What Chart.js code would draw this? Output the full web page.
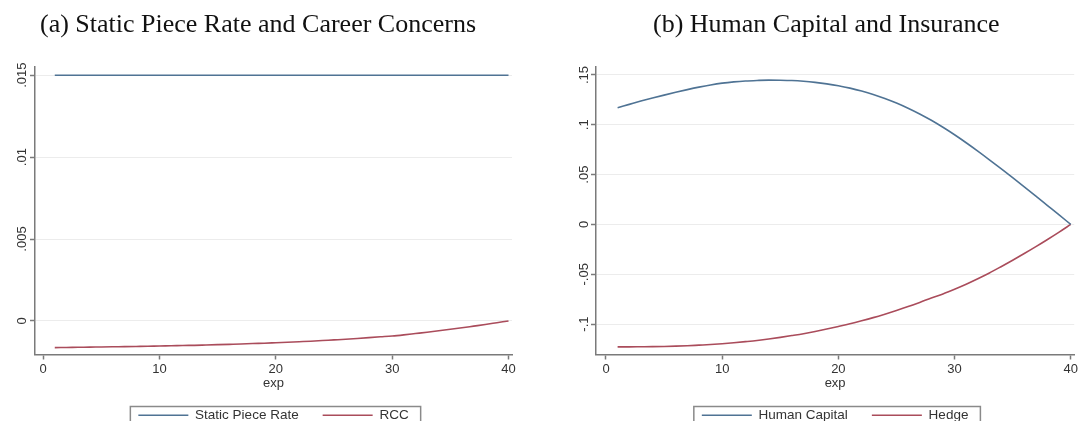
<!DOCTYPE html>
<html>
<head>
<meta charset="utf-8">
<script src="https://cdn.jsdelivr.net/npm/chart.js@4.4.1/dist/chart.umd.min.js"></script>
<style>
  html, body { margin: 0; padding: 0; background: #fff; width: 1080px; height: 421px; overflow: hidden; }
  .panel { position: absolute; top: 0; width: 540px; height: 421px; overflow: hidden; }
  .panel canvas { position: absolute; left: 0; top: 0; }
  .title { position: absolute; top: 9px; font-family: "Liberation Serif", "Times New Roman", serif;
           font-size: 26px; line-height: 30px; color: #111; white-space: nowrap; }
</style>
</head>
<body>
<div class="panel" style="left:0">
  <canvas id="chartA" width="540" height="432"></canvas>
  <div class="title" style="left:40px">(a) Static Piece Rate and Career Concerns</div>
</div>
<div class="panel" style="left:540px">
  <canvas id="chartB" width="540" height="432"></canvas>
  <div class="title" style="left:113px">(b) Human Capital and Insurance</div>
</div>
<script>
// Years of experience
const exp = [1, 2, 3, 4, 5, 6, 7, 8, 9, 10, 11, 12, 13, 14, 15, 16, 17, 18, 19, 20,
             21, 22, 23, 24, 25, 26, 27, 28, 29, 30, 31, 32, 33, 34, 35, 36, 37, 38, 39, 40];

// Panel (a): static piece rate and the career-concerns component
const staticPieceRate = [0.0150, 0.0150, 0.0150, 0.0150, 0.0150, 0.0150, 0.0150, 0.0150, 0.0150, 0.0150,
                         0.0150, 0.0150, 0.0150, 0.0150, 0.0150, 0.0150, 0.0150, 0.0150, 0.0150, 0.0150,
                         0.0150, 0.0150, 0.0150, 0.0150, 0.0150, 0.0150, 0.0150, 0.0150, 0.0150, 0.0150,
                         0.0150, 0.0150, 0.0150, 0.0150, 0.0150, 0.0150, 0.0150, 0.0150, 0.0150, 0.0150];
const rcc = [-0.00163, -0.00162, -0.00161, -0.00160, -0.00159, -0.00158, -0.00157, -0.00156, -0.00155, -0.00153,
             -0.00152, -0.00150, -0.00149, -0.00147, -0.00145, -0.00143, -0.00141, -0.00138, -0.00136, -0.00133,
             -0.00130, -0.00127, -0.00124, -0.00120, -0.00116, -0.00112, -0.00107, -0.00102, -0.00097, -0.00092,
             -0.00085, -0.00077, -0.00069, -0.00060, -0.00051, -0.00042, -0.00032, -0.00022, -0.00011, 0.00000];

// Panel (b): human capital and hedge components
const humanCapital = [0.1172, 0.1205, 0.1238, 0.1269, 0.1298, 0.1326, 0.1353, 0.1378, 0.1400, 0.1418,
                      0.1431, 0.1440, 0.1445, 0.1448, 0.1447, 0.1444, 0.1437, 0.1426, 0.1411, 0.1392,
                      0.1368, 0.1339, 0.1305, 0.1265, 0.1219, 0.1167, 0.1109, 0.1045, 0.0975, 0.0900,
                      0.0820, 0.0736, 0.0649, 0.0560, 0.0469, 0.0377, 0.0284, 0.0190, 0.0096, 0.0000];
const hedge = [-0.1228, -0.1228, -0.1227, -0.1226, -0.1224, -0.1221, -0.1217, -0.1211, -0.1205, -0.1197,
               -0.1187, -0.1176, -0.1164, -0.1149, -0.1133, -0.1115, -0.1096, -0.1074, -0.1050, -0.1024,
               -0.0997, -0.0967, -0.0935, -0.0900, -0.0863, -0.0824, -0.0782, -0.0738, -0.0697, -0.0650,
               -0.0600, -0.0545, -0.0487, -0.0424, -0.0359, -0.0292, -0.0223, -0.0151, -0.0077, 0.0000];

// Axis ticks and their printed labels
const xTicks = [0, 10, 20, 30, 40];
const yTicksA = [0, 0.005, 0.01, 0.015];
const yTickLabelsA = ['0', '.005', '.01', '.015'];
const yTicksB = [-0.1, -0.05, 0, 0.05, 0.1, 0.15];
const yTickLabelsB = ['-.1', '-.05', '0', '.05', '.1', '.15'];

const BLUE = '#4f7394';
const RED = '#aa4c5b';
const AXIS = '#7a7a7a';
const GRID = '#ececec';
const TEXT = '#333333';
const SANS = '"Liberation Sans", Arial, sans-serif';

// Outline drawn around the legend entries
const legendFrame = {
  id: 'legendFrame',
  afterDraw(chart) {
    const lg = chart.legend;
    if (!lg || !lg.legendHitBoxes || !lg.legendHitBoxes.length) return;
    const hb = lg.legendHitBoxes;
    const x0 = Math.min(...hb.map(b => b.left)) - 8;
    const x1 = Math.max(...hb.map(b => b.left + b.width)) + 12;
    const y0 = Math.min(...hb.map(b => b.top)) - 2;
    const ctx = chart.ctx;
    ctx.save();
    ctx.strokeStyle = '#8a8a8a';
    ctx.lineWidth = 1.5;
    ctx.strokeRect(x0, y0, x1 - x0, chart.height + 20 - y0);
    ctx.restore();
  }
};

function points(ys) {
  return exp.map((x, i) => ({ x: x, y: ys[i] }));
}

function makePanel(id, opts) {
  const ctx = document.getElementById(id);
  return new Chart(ctx, {
    type: 'line',
    data: {
      datasets: opts.series.map(s => ({
        label: s.label,
        data: points(s.values),
        borderColor: s.color,
        backgroundColor: s.color,
        borderWidth: 1.6,
        pointRadius: 0,
        cubicInterpolationMode: 'monotone',
        fill: false
      }))
    },
    options: {
      responsive: false,
      devicePixelRatio: 1,
      animation: false,
      layout: { padding: { left: 0, right: opts.padRight, top: 67, bottom: 0 } },
      plugins: {
        tooltip: { enabled: false },
        title: { display: false },
        legend: {
          display: true,
          position: 'bottom',
          fullSize: false,
          labels: {
            usePointStyle: true,
            pointStyle: 'line',
            pointStyleWidth: 50,
            padding: 24,
            color: TEXT,
            font: { family: SANS, size: 13.5 }
          }
        }
      },
      scales: {
        x: {
          type: 'linear',
          min: opts.xMin,
          max: opts.xMax,
          afterBuildTicks: s => { s.ticks = xTicks.map(v => ({ value: v })); },
          afterFit: s => { s.height = 30; },
          border: { display: true, color: AXIS, width: 1.5 },
          grid: { drawOnChartArea: false, drawTicks: true, tickLength: 5, tickColor: AXIS, tickWidth: 1.5 },
          ticks: { color: TEXT, font: { family: SANS, size: 13 }, padding: 2, maxRotation: 0, autoSkip: false },
          title: { display: true, text: 'exp', color: TEXT, font: { family: SANS, size: 13 },
                   padding: { top: 0, bottom: -7 } }
        },
        y: {
          type: 'linear',
          min: opts.yMin,
          max: opts.yMax,
          afterBuildTicks: s => { s.ticks = opts.yTicks.map(v => ({ value: v })); },
          afterFit: s => { s.width = opts.yWidth; },
          border: { display: true, color: AXIS, width: 1.5 },
          grid: { color: GRID, lineWidth: 1, drawTicks: true, tickLength: 5, tickColor: AXIS, tickWidth: 1.5 },
          ticks: {
            color: TEXT,
            font: { family: SANS, size: 13 },
            minRotation: 90,
            maxRotation: 90,
            crossAlign: 'center',
            padding: -5,
            autoSkip: false,
            callback: v => {
              const i = opts.yTicks.findIndex(t => Math.abs(t - v) < 1e-9);
              return i >= 0 ? opts.yLabels[i] : '';
            }
          }
        }
      }
    },
    plugins: [legendFrame]
  });
}

makePanel('chartA', {
  series: [
    { label: 'Static Piece Rate', values: staticPieceRate, color: BLUE },
    { label: 'RCC', values: rcc, color: RED }
  ],
  xMin: -0.7, xMax: 40.3,
  yMin: -0.00205, yMax: 0.0155,
  yTicks: yTicksA, yLabels: yTickLabelsA,
  yWidth: 35, padRight: 28
});

makePanel('chartB', {
  series: [
    { label: 'Human Capital', values: humanCapital, color: BLUE },
    { label: 'Hedge', values: hedge, color: RED }
  ],
  xMin: -0.86, xMax: 40.3,
  yMin: -0.1305, yMax: 0.158,
  yTicks: yTicksB, yLabels: yTickLabelsB,
  yWidth: 56, padRight: 4
});
</script>
</body>
</html>
